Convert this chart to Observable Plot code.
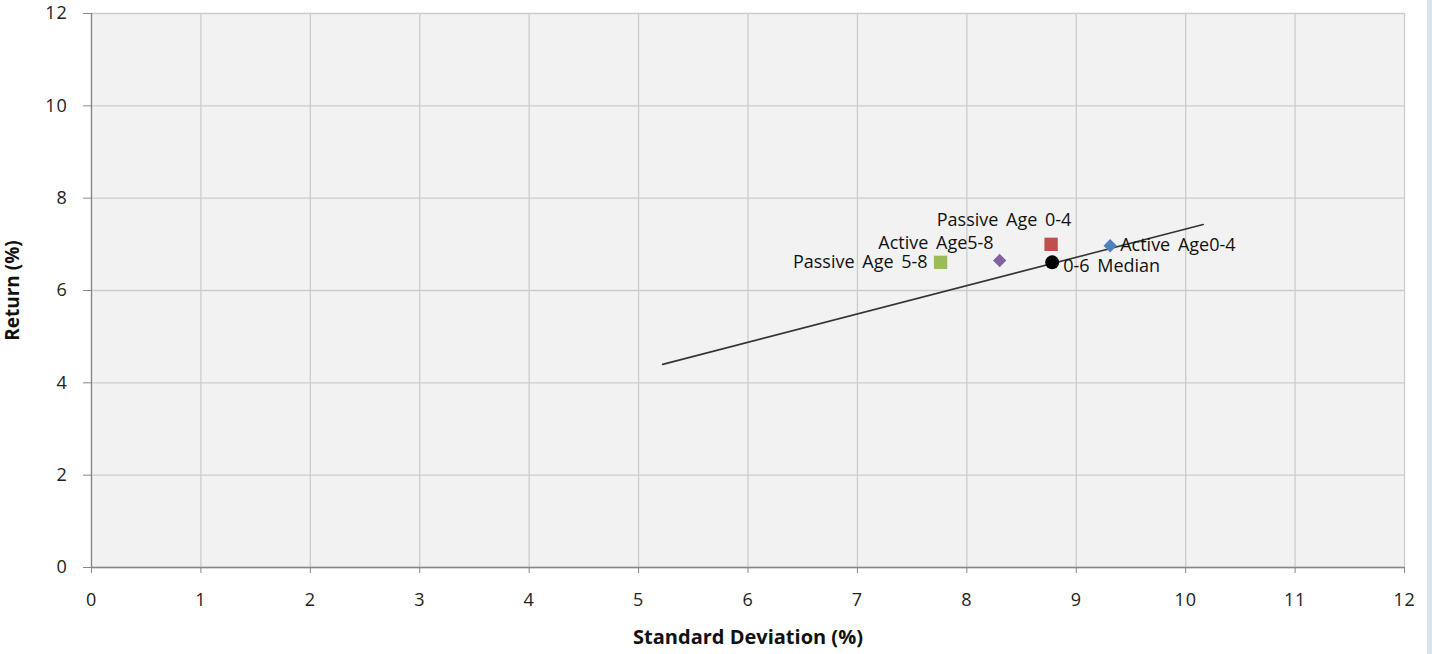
<!DOCTYPE html>
<html>
<head>
<meta charset="utf-8">
<script src="https://cdn.jsdelivr.net/npm/d3@7"></script>
<script src="https://cdn.jsdelivr.net/npm/@observablehq/plot@0.6"></script>
<style>
  html, body { margin: 0; padding: 0; background: #ffffff; }
  #wrap { position: relative; width: 1432px; height: 654px; overflow: hidden; }
  #strip { position: absolute; left: 1427px; top: 0; width: 5px; height: 654px; background: #d7e4f0; }
  svg [aria-label="x-axis tick label"] text, svg [aria-label="y-axis tick label"] text { letter-spacing: 0.8px; }
  .ptlabel text, text.ptlabel, .ptlabel { word-spacing: 3px; }
</style>
</head>
<body>
<div id="wrap"><div id="chart"></div><div id="strip"></div></div>
<script>
const names = ["Active Age0-4", "Passive Age 0-4", "Active Age5-8", "Passive Age 5-8", "0-6 Median"];
const stdDev = [9.31, 8.77, 8.30, 7.76, 8.78];
const returns = [6.97, 7.00, 6.65, 6.61, 6.61];
const colors = ["#4f81bd", "#c0504d", "#8064a2", "#9bbb59", "#000000"];
const symbols = ["diamond2", "square2", "diamond2", "square2", "circle"];
const sizes = [6, 8.5, 6, 8.5, 7];

const trendSd = [5.22, 10.16];
const trendRet = [4.40, 7.43];

const ticks = [0, 1, 2, 3, 4, 5, 6, 7, 8, 9, 10, 11, 12];
const yTicks = [0, 2, 4, 6, 8, 10, 12];
const xTitle = "Standard Deviation (%)";
const yTitle = "Return (%)";

const points = names.map((n, i) => ({name: n, sd: stdDev[i], ret: returns[i], color: colors[i], symbol: symbols[i], r: sizes[i]}));
const trend = trendSd.map((s, i) => ({sd: s, ret: trendRet[i]}));

const font = "'Open Sans', sans-serif";
const labelStyle = {fontSize: 18, fill: "#111", fontFamily: font, letterSpacing: "1.5px", className: "ptlabel"};
const lbl = (name, anchor, dx, dy) => Plot.text(points.filter(d => d.name === name), {x: "sd", y: "ret", text: "name", textAnchor: anchor, dx, dy, ...labelStyle});

const chart = Plot.plot({
  width: 1432,
  height: 654,
  marginLeft: 91,
  marginRight: 28,
  marginTop: 13,
  marginBottom: 87,
  style: {fontFamily: font, background: "#ffffff", overflow: "visible"},
  x: {domain: [0, 12]},
  y: {domain: [0, 12]},
  r: {type: "identity"},
  symbol: {type: "identity"},
  marks: [
    Plot.frame({fill: "#f2f2f2", stroke: null}),
    Plot.gridX(ticks, {stroke: "#cccccc", strokeOpacity: 1, strokeWidth: 1.3}),
    Plot.gridY(yTicks, {stroke: "#cccccc", strokeOpacity: 1, strokeWidth: 1.3}),
    Plot.ruleX([0], {stroke: "#868686", strokeWidth: 1.3}),
    Plot.ruleY([0], {stroke: "#868686", strokeWidth: 1.3}),
    Plot.axisX(ticks, {tickSize: 6, tickPadding: 20, fontSize: 18, stroke: "#868686", color: "#222", label: null}),
    Plot.axisY(yTicks, {tickSize: 8, tickPadding: 16, fontSize: 18, stroke: "#868686", color: "#222", label: null}),
    Plot.text([xTitle], {frameAnchor: "bottom", dy: 76, textAnchor: "middle", fontSize: 20, fontWeight: "bold", fill: "#111", letterSpacing: "1.2px"}),
    Plot.text([yTitle], {frameAnchor: "left", dx: -79, textAnchor: "middle", rotate: -90, fontSize: 19, fontWeight: "bold", fill: "#111", letterSpacing: "1.2px"}),
    Plot.line(trend, {x: "sd", y: "ret", stroke: "#333333", strokeWidth: 1.6}),
    Plot.dot(points, {x: "sd", y: "ret", symbol: "symbol", r: "r", fill: "color", stroke: null}),
    lbl("Passive Age 0-4", "middle", -47, -24),
    lbl("Active Age5-8", "end", -6, -17),
    lbl("Passive Age 5-8", "end", -13, 0),
    lbl("Active Age0-4", "start", 10, 0),
    lbl("0-6 Median", "start", 11, 4)
  ]
});
document.getElementById("chart").appendChild(chart);
</script>
</body>
</html>
